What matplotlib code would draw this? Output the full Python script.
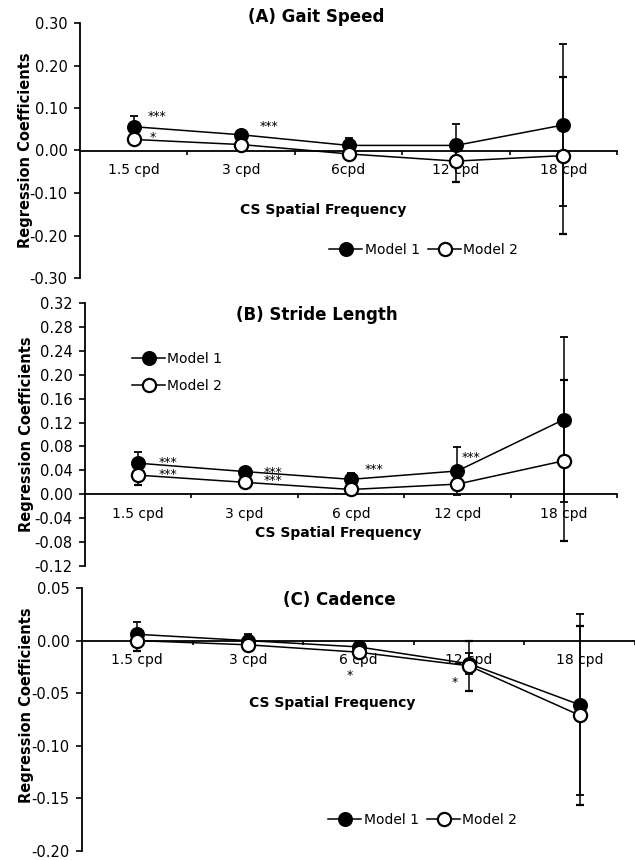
import numpy as np
import matplotlib.pyplot as plt
from matplotlib.lines import Line2D

plt.rcParams['font.family'] = ['DejaVu Sans']

# categories (x positions are category centers 0.5 .. 4.5)
cats_a = ['1.5 cpd', '3 cpd', '6cpd', '12 cpd', '18 cpd']
cats = ['1.5 cpd', '3 cpd', '6 cpd', '12 cpd', '18 cpd']

# (A) Gait speed
gait_m1 = [0.056, 0.037, 0.012, 0.012, 0.060]
gait_m1_err = [0.026, 0.010, 0.018, 0.050, 0.190]
gait_m2 = [0.026, 0.014, -0.008, -0.025, -0.012]
gait_m2_err = [0.010, 0.010, 0.012, 0.050, 0.185]

# (B) Stride length
stride_m1 = [0.052, 0.038, 0.025, 0.039, 0.125]
stride_m1_err = [0.019, 0.008, 0.010, 0.040, 0.138]
stride_m2 = [0.032, 0.020, 0.008, 0.017, 0.056]
stride_m2_err = [0.017, 0.006, 0.006, 0.010, 0.135]

# (C) Cadence
cad_m1 = [0.006, 0.000, -0.006, -0.022, -0.061]
cad_m1_err = [0.012, 0.006, 0.006, 0.010, 0.086]
cad_m2 = [0.000, -0.004, -0.011, -0.024, -0.071]
cad_m2_err = [0.010, 0.006, 0.006, 0.024, 0.085]

# significance marks: (x, y, text)
stars_a = [(0.72, 0.080, '***'), (0.68, 0.031, '*'), (1.76, 0.057, '***')]
stars_b = [(0.78, 0.053, '***'), (0.78, 0.033, '***'), (1.77, 0.030, '***\n***'),
           (2.72, 0.041, '***'), (3.63, 0.061, '***')]
stars_c = [(2.42, -0.033, '*'), (3.37, -0.040, '*')]

fig = plt.figure(figsize=(6.35, 8.6), dpi=100)


def ax_rect(left, right, top, bottom):
    return [left / 635, 1 - bottom / 860, (right - left) / 635, (bottom - top) / 860]


def panel(ax, labels, m1, e1, m2, e2, ylim, yticks, stars):
    x = np.arange(len(labels)) + 0.5
    ax.errorbar(x, m1, yerr=e1, color='black', lw=1.1, elinewidth=1.1,
                capsize=3, capthick=1.1, marker='o', ms=9.5, mfc='black',
                mec='black', mew=1.3, zorder=3)
    ax.errorbar(x, m2, yerr=e2, color='black', lw=1.1, elinewidth=1.1,
                capsize=3, capthick=1.1, marker='o', ms=9.5, mfc='white',
                mec='black', mew=1.6, zorder=4)
    for sx, sy, s in stars:
        ax.text(sx, sy, s, ha='center', va='center', fontsize=9, zorder=6,
                linespacing=0.55)
    ax.set_xlim(0, 5)
    ax.set_ylim(*ylim)
    ax.set_yticks(yticks)
    ax.set_yticklabels(['{:.2f}'.format(round(v, 2) + 0.0) for v in yticks])
    ax.set_xticks([1, 2, 3, 4, 5])
    ax.set_xticklabels([])
    ax.set_xticks(x, minor=True)
    ax.set_xticklabels(labels, minor=True)
    ax.tick_params(axis='x', which='minor', length=0, pad=9, labelsize=10)
    ax.tick_params(axis='x', which='major', length=3, width=1.2, direction='out')
    ax.tick_params(axis='y', length=4, width=1.2, labelsize=10.5, pad=5)
    ax.spines['top'].set_visible(False)
    ax.spines['right'].set_visible(False)
    ax.spines['bottom'].set_position(('data', 0))
    ax.spines['bottom'].set_linewidth(1.3)
    ax.spines['left'].set_linewidth(1.3)
    ax.set_ylabel('Regression Coefficients', fontsize=10.5, fontweight='bold')


handles = [Line2D([], [], color='black', lw=1.1, marker='o', ms=9.5,
                  mfc='black', mec='black', mew=1.3),
           Line2D([], [], color='black', lw=1.1, marker='o', ms=9.5,
                  mfc='white', mec='black', mew=1.6)]
names = ['Model 1', 'Model 2']

# (A)
axA = fig.add_axes(ax_rect(80, 617, 23, 278))
panel(axA, cats_a, gait_m1, gait_m1_err, gait_m2, gait_m2_err,
      (-0.30, 0.30), np.arange(-0.30, 0.31, 0.10), stars_a)
axA.yaxis.set_label_coords(-0.088, 0.5)
axA.text(0.44, 1.024, '(A) Gait Speed', transform=axA.transAxes,
         ha='center', va='center', fontsize=12, fontweight='bold')
axA.text(0.453, 0.267, 'CS Spatial Frequency', transform=axA.transAxes,
         ha='center', va='center', fontsize=10, fontweight='bold')
axA.legend(handles, names, loc='center', bbox_to_anchor=(0.64, 0.11), ncol=2,
           frameon=False, fontsize=10, handlelength=2.4, columnspacing=0.6,
           handletextpad=0.15)

# (B)
axB = fig.add_axes(ax_rect(85, 617, 303, 566))
panel(axB, cats, stride_m1, stride_m1_err, stride_m2, stride_m2_err,
      (-0.12, 0.32), np.arange(-0.12, 0.33, 0.04), stars_b)
axB.yaxis.set_label_coords(-0.096, 0.5)
axB.text(0.435, 0.954, '(B) Stride Length', transform=axB.transAxes,
         ha='center', va='center', fontsize=12, fontweight='bold')
axB.text(0.475, 0.125, 'CS Spatial Frequency', transform=axB.transAxes,
         ha='center', va='center', fontsize=10, fontweight='bold')
axB.legend(handles, names, loc='center left', bbox_to_anchor=(0.065, 0.736),
           ncol=1, frameon=False, fontsize=10, handlelength=2.4,
           handletextpad=0.15, labelspacing=0.9)

# (C)
axC = fig.add_axes(ax_rect(82, 635, 588, 851))
panel(axC, cats, cad_m1, cad_m1_err, cad_m2, cad_m2_err,
      (-0.20, 0.05), np.arange(-0.20, 0.051, 0.05), stars_c)
axC.yaxis.set_label_coords(-0.087, 0.555)
axC.text(0.466, 0.954, '(C) Cadence', transform=axC.transAxes,
         ha='center', va='center', fontsize=12, fontweight='bold')
axC.text(0.452, 0.563, 'CS Spatial Frequency', transform=axC.transAxes,
         ha='center', va='center', fontsize=10, fontweight='bold')
axC.legend(handles, names, loc='center', bbox_to_anchor=(0.616, 0.118), ncol=2,
           frameon=False, fontsize=10, handlelength=2.4, columnspacing=0.6,
           handletextpad=0.15)

fig.savefig('out.png', dpi=100)
